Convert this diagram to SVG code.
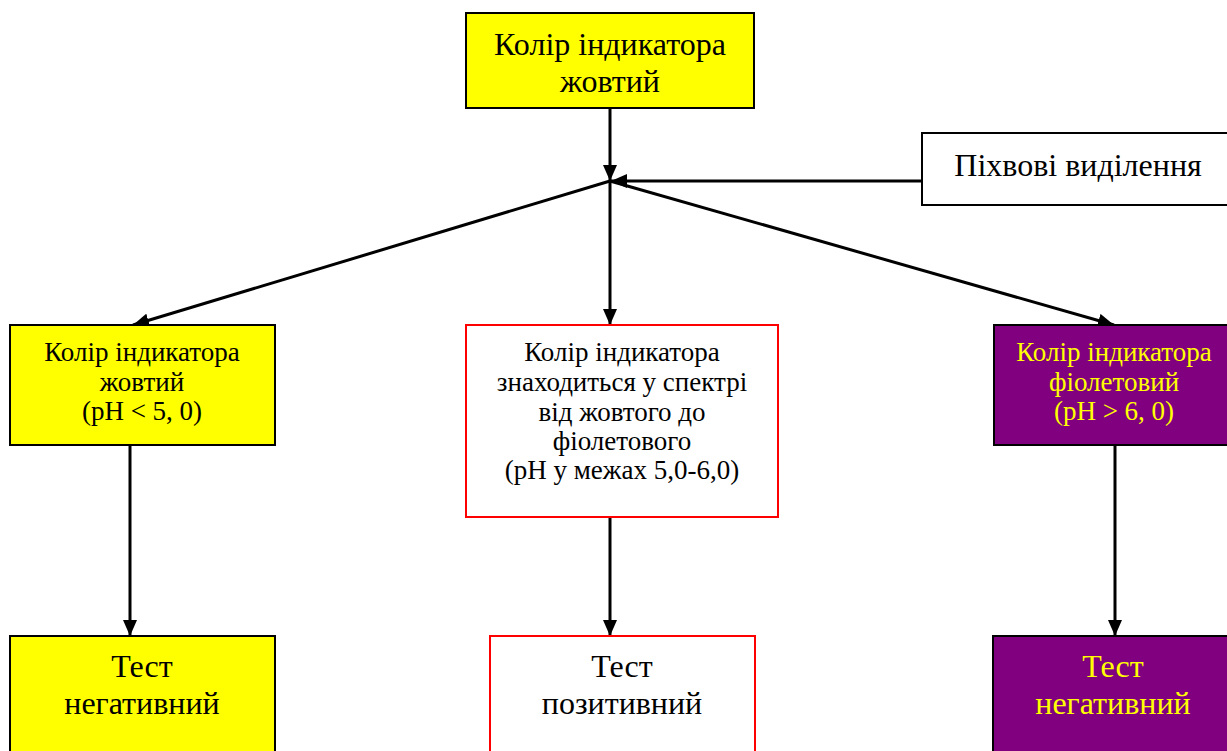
<svg xmlns="http://www.w3.org/2000/svg" width="1227" height="751" viewBox="0 0 1227 751">
<style>
.box{stroke:#000;stroke-width:2}
.y{fill:#ffff00}
.p{fill:#800080}
.w{fill:#fff}
.r{fill:#fff;stroke:#ff0000;stroke-width:2}
text{font-family:'Liberation Serif','Times New Roman','DejaVu Serif',serif;text-anchor:middle}
.big{font-size:32px}
.mid{font-size:27px}
.pt{font-size:32px}
.dk{fill:#000}
.yl{fill:#ffff00}
.c{stroke:#000;stroke-width:3;fill:none;marker-end:url(#ah)}
</style>
<defs>
<marker id="ah" viewBox="0 0 16 14" refX="16" refY="7" markerWidth="16" markerHeight="14" markerUnits="userSpaceOnUse" orient="auto">
<path d="M0,0 L16,7 L0,14 z" fill="#000"/>
</marker>
</defs>
<rect width="1227" height="751" fill="#fff"/>
<g id="connectors">
<line class="c" x1="610" y1="108" x2="610" y2="181"/>
<line class="c" x1="922" y1="181" x2="611" y2="181"/>
<line class="c" x1="610" y1="181" x2="133" y2="325"/>
<line class="c" x1="610" y1="181" x2="610" y2="325"/>
<line class="c" x1="610" y1="181" x2="1114" y2="325"/>
<line class="c" x1="130" y1="445" x2="130" y2="636"/>
<line class="c" x1="610" y1="517" x2="610" y2="636"/>
<line class="c" x1="1115" y1="445" x2="1115" y2="636"/>
</g>
<g id="top">
<rect class="box y" x="466" y="13" width="288" height="95"/>
<text class="big dk" x="610" y="55">Колір індикатора</text>
<text class="big dk" x="610" y="92">жовтий</text>
</g>
<g id="discharge">
<rect class="box w" x="922" y="133" width="310" height="72"/>
<text class="pt dk" x="1078" y="176">Піхвові виділення</text>
</g>
<g id="left-mid">
<rect class="box y" x="10" y="325" width="265" height="120"/>
<text class="mid dk" x="142" y="361">Колір індикатора</text>
<text class="mid dk" x="142" y="391">жовтий</text>
<text class="mid dk" x="142" y="420">(pH &lt; 5, 0)</text>
</g>
<g id="center-mid">
<rect class="r" x="466" y="325" width="312" height="192"/>
<text class="mid dk" x="622" y="361">Колір індикатора</text>
<text class="mid dk" x="622" y="391">знаходиться у спектрі</text>
<text class="mid dk" x="622" y="421">від жовтого до</text>
<text class="mid dk" x="622" y="450">фіолетового</text>
<text class="mid dk" x="622" y="479">(pH у межах 5,0-6,0)</text>
</g>
<g id="right-mid">
<rect class="box p" x="994" y="325" width="240" height="120"/>
<text class="mid yl" x="1114" y="361">Колір індикатора</text>
<text class="mid yl" x="1114" y="391">фіолетовий</text>
<text class="mid yl" x="1114" y="420">(pH &gt; 6, 0)</text>
</g>
<g id="left-bottom">
<rect class="box y" x="10" y="636" width="265" height="120"/>
<text class="big dk" x="142" y="677">Тест</text>
<text class="big dk" x="142" y="714">негативний</text>
</g>
<g id="center-bottom">
<rect class="r" x="490" y="636" width="265" height="120"/>
<text class="big dk" x="622" y="677">Тест</text>
<text class="big dk" x="622" y="714">позитивний</text>
</g>
<g id="right-bottom">
<rect class="box p" x="993" y="636" width="240" height="120"/>
<text class="big yl" x="1113" y="677">Тест</text>
<text class="big yl" x="1113" y="714">негативний</text>
</g>
</svg>
